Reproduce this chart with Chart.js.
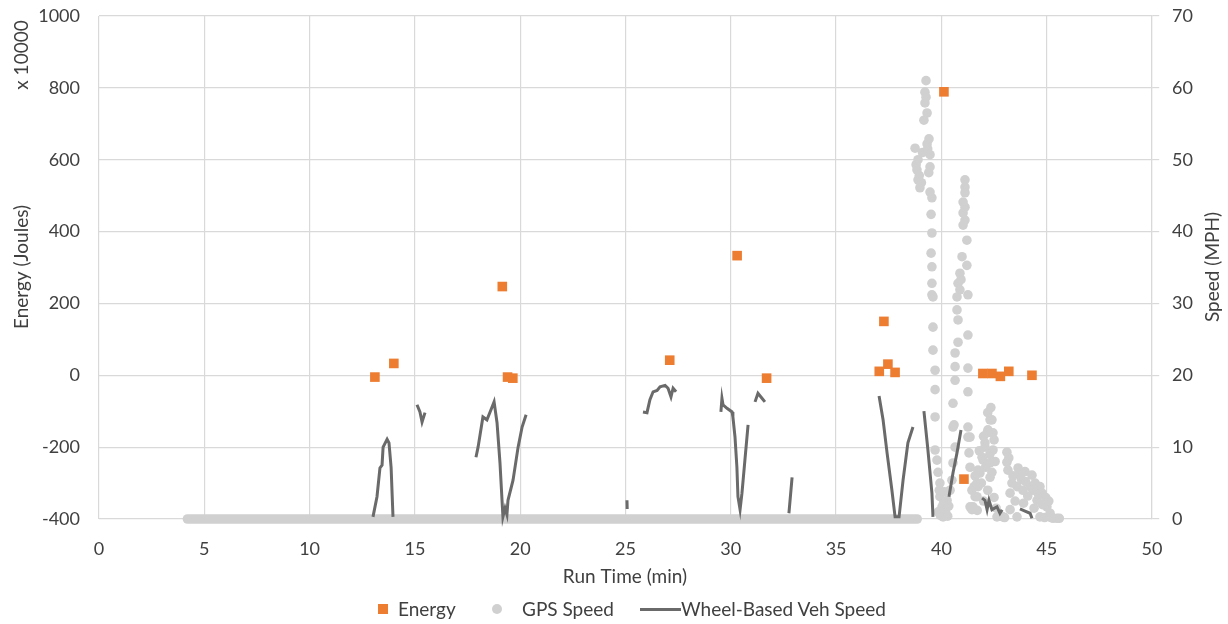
<!DOCTYPE html>
<html>
<head>
<meta charset="utf-8">
<script src="https://cdn.jsdelivr.net/npm/chart.js@4.4.1/dist/chart.umd.min.js"></script>
<style>
  body { margin: 0; background: #fff; }
  #wrap { position: relative; width: 1228px; height: 624px; font-family: Lato, "Open Sans", sans-serif; color: #404040; }
  #chart { position: absolute; left: 0; top: 0; }
  .lg { position: absolute; font-size: 19px; line-height: 20px; top: 599px; white-space: nowrap; }
  .mk { position: absolute; }
</style>
</head>
<body>
<div id="wrap">
  <canvas id="chart" width="1228" height="624"></canvas>
  <div class="mk" style="left:378px;top:604px;width:10px;height:10px;background:#ED7D31"></div>
  <div class="lg" style="left:398px">Energy</div>
  <div class="mk" style="left:492px;top:604px;width:10px;height:10px;border-radius:5px;background:#d0d0d0"></div>
  <div class="lg" style="left:522px">GPS Speed</div>
  <div class="mk" style="left:640px;top:608px;width:41px;height:3px;background:#6a6a6a"></div>
  <div class="lg" style="left:681px">Wheel-Based Veh Speed</div>
</div>
<script>
// energy events (x 10000 J)
var energyTime = [13.1, 14.0, 19.15, 19.4, 19.65, 27.1, 30.3, 31.7, 37.05, 37.27, 37.46, 37.8, 40.12, 41.07, 41.97, 42.4, 42.8, 43.2, 44.3];
var energyJ    = [-5, 33, 247, -5, -8, 42, 333, -8, 11, 150, 31, 8, 789, -289, 5, 5, -3, 11, 0];

// GPS speed while parked, drawn as one dense run of points at 0 mph
var gpsIdleTime = [4.2, 38.85];
var gpsIdleMph  = [0, 0];

// GPS speed samples (min, mph)
var gpsTime = [39.27, 39.22, 39.27, 39.22, 39.32, 39.17, 39.41, 39.32, 38.75, 39.46, 38.89, 39.46, 38.84, 38.89, 38.98, 39.46, 39.55,
  39.51, 39.55, 39.51, 39.55, 39.55, 39.55, 38.80, 38.95, 39.05, 39.10, 39.40, 39.35,
  39.60, 39.60, 39.60, 39.70, 39.70, 39.70, 39.70, 39.79, 39.84, 39.93, 39.93, 40.03, 40.08, 40.27, 40.41, 40.50, 40.55, 40.65,
  39.85, 39.95, 40.10, 40.20, 40.30, 40.15, 39.90, 40.35,
  41.12, 41.12, 41.12, 41.03, 41.12, 41.03, 41.12, 41.03, 41.21, 40.98, 41.21, 40.88, 40.79, 41.26, 40.74, 40.74, 40.79, 41.26,
  40.79, 40.65, 40.65, 41.26, 40.65, 41.26, 40.55, 40.55, 41.26, 41.26, 40.60, 40.93, 40.88,
  42.40, 42.21, 42.07, 41.93, 41.74, 41.69, 41.60, 41.45, 42.31, 42.45, 42.17, 42.07, 42.45, 41.98, 42.31, 41.83, 42.31, 41.74,
  41.69, 41.50, 41.36, 41.45, 41.36, 41.31, 41.36, 42.64, 42.92, 42.80,
  41.60, 41.80, 42.00, 42.20, 42.35, 42.50, 42.55, 42.40, 42.20, 42.00, 41.90, 42.10, 42.30, 41.55, 41.70, 42.50, 42.60,
  43.11, 43.11, 43.16, 43.64, 43.97, 44.30, 44.68, 44.78, 43.35, 43.26, 43.59, 43.87, 44.21, 44.54, 45.01, 45.16, 45.49, 44.68,
  43.59, 43.26, 43.80, 44.45, 44.90, 45.30, 45.60,
  43.20, 43.40, 43.50, 43.75, 44.00, 44.10, 44.35, 44.60, 44.80, 44.95, 45.10, 45.20, 43.90, 43.00, 44.40];
var gpsMph = [61.0, 59.4, 58.7, 57.9, 56.5, 55.5, 52.9, 52.2, 51.6, 50.7, 50.0, 49.0, 48.6, 47.2, 46.1, 45.5, 44.7,
  42.4, 39.8, 37.0, 35.1, 32.8, 31.2, 49.3, 47.8, 46.8, 51.0, 48.2, 51.5,
  30.9, 26.7, 23.5, 20.7, 18.0, 14.2, 9.6, 8.2, 6.5, 5.0, 3.1, 1.7, 0.3, 2.6, 4.0, 5.4, 7.8, 10.0,
  1.0, 0.5, 2.2, 1.0, 0.4, 3.8, 4.0, 1.8,
  47.2, 46.2, 45.4, 44.1, 43.4, 42.6, 41.6, 40.9, 38.8, 36.5, 35.3, 34.2, 32.8, 31.2, 30.9, 29.1, 27.7, 25.6,
  24.6, 23.1, 21.2, 21.0, 19.3, 17.7, 16.1, 12.8, 12.8, 11.4, 13.1, 33.3, 31.9,
  13.8, 12.4, 10.6, 8.6, 6.8, 5.0, 3.1, 1.3, 13.8, 12.0, 12.0, 10.0, 9.6, 8.2, 7.8, 6.4, 5.8, 4.5,
  3.1, 1.7, 7.2, 4.0, 1.7, 9.2, 11.4, 0.3, 0.3, 0.5,
  6.0, 9.5, 11.5, 14.8, 15.5, 11.0, 8.0, 6.5, 4.0, 2.5, 5.0, 7.2, 9.0, 4.5, 1.2, 3.0, 1.5,
  9.3, 7.9, 6.8, 7.1, 6.6, 6.1, 4.5, 3.6, 5.0, 3.6, 4.5, 4.0, 4.5, 2.6, 1.7, 0.8, 0.1, 0.3,
  0.3, 1.3, 5.5, 5.0, 0.2, 0.1, 0.1,
  8.5, 6.0, 2.5, 6.2, 5.2, 3.2, 4.0, 3.5, 2.0, 3.0, 2.5, 0.2, 2.2, 0.2, 1.5];

// wheel-based vehicle speed (min, mph), null = gap in the log
var wheelTime = [13.01, 13.20, 13.34, 13.44, 13.49, 13.68, 13.77, 13.87, 13.96, 14.0,
  15.10, 15.24, 15.34, 15.48, 15.5,
  17.90, 18.00, 18.23, 18.42, 18.57, 18.76, 18.90, 19.04, 19.18, 19.28, 19.37, 19.42, 19.66, 19.90, 20.09, 20.28, 20.3,
  25.07, 25.08, 25.1,
  25.83, 26.02, 26.16, 26.31, 26.50, 26.64, 26.88, 27.02, 27.16, 27.26, 27.40, 27.5,
  29.53, 29.58, 29.63, 29.82, 30.06, 30.10, 30.20, 30.29, 30.34, 30.44, 30.53, 30.67, 30.82, 30.9,
  31.15, 31.29, 31.48, 31.62, 31.7,
  32.76, 32.91, 33.0,
  37.04, 37.23, 37.42, 37.65, 37.80, 37.99, 38.18, 38.41, 38.65, 38.7,
  39.17, 39.36, 39.55, 39.60, 39.7,
  40.36, 40.55, 40.74, 40.93, 41.0,
  41.93, 42.07, 42.17, 42.26, 42.40, 42.64, 42.78, 42.88, 42.9,
  43.73, 43.97, 44.21, 44.30];
var wheelMph = [0.3, 3.1, 7.1, 7.5, 10.0, 11.1, 10.6, 7.2, 0.3, null,
  15.9, 14.9, 13.5, 14.8, null,
  8.6, 10.0, 14.2, 13.8, 14.9, 16.3, 13.4, 7.8, 0.3, 1.5, 0.6, 2.6, 5.4, 10.0, 12.8, 14.5, null,
  2.6, 1.4, null,
  14.9, 14.8, 16.6, 17.7, 17.9, 18.4, 18.6, 18.2, 17.0, 18.2, 17.7, null,
  14.9, 16.8, 15.9, 15.4, 14.9, 14.2, 11.4, 7.2, 3.1, 1.3, 3.6, 8.2, 13.1, null,
  16.3, 17.5, 16.8, 16.3, null,
  0.8, 5.8, null,
  17.1, 13.8, 9.2, 4.0, 0.3, 0.3, 5.4, 10.6, 12.8, null,
  15.0, 9.6, 3.6, 0.3, null,
  3.1, 6.4, 9.2, 12.4, null,
  2.9, 2.6, 1.3, 2.6, 1.3, 1.7, 0.8, 1.3, null,
  1.4, 1.1, 0.8, 0.1];

var xTicks = [0, 5, 10, 15, 20, 25, 30, 35, 40, 45, 50];

function pts(xs, ys) {
  return xs.map(function(x, i) { return {x: x, y: ys[i]}; });
}

var FONT = 'Lato, "Open Sans", sans-serif';
var TEXT = '#404040';
var GRID = '#d9d9d9';

var axisTitles = {
  id: 'axisTitles',
  afterDraw: function(chart) {
    var ctx = chart.ctx;
    ctx.save();
    ctx.fillStyle = TEXT;
    ctx.font = '19px ' + FONT;
    ctx.textAlign = 'center';
    ctx.textBaseline = 'middle';
    ctx.fillText('Run Time (min)', 625, 577);
    [['Energy (Joules)', 22, 267], ['x 10000', 22, 55], ['Speed (MPH)', 1213, 267]].forEach(function(t) {
      ctx.save();
      ctx.translate(t[1], t[2]);
      ctx.rotate(-Math.PI / 2);
      ctx.fillText(t[0], 0, 0);
      ctx.restore();
    });
    ctx.restore();
  }
};

Chart.defaults.font.family = FONT;
Chart.defaults.font.size = 18;
Chart.defaults.color = TEXT;

function plain(v) { return String(v); }

new Chart(document.getElementById('chart'), {
  type: 'scatter',
  data: {
    datasets: [
      {
        label: 'Energy',
        data: pts(energyTime, energyJ),
        yAxisID: 'y',
        pointStyle: 'rect',
        pointRadius: 6.8,
        pointBackgroundColor: '#ED7D31',
        pointBorderWidth: 0,
        order: 0
      },
      {
        label: 'Wheel-Based Veh Speed',
        data: pts(wheelTime, wheelMph),
        yAxisID: 'y1',
        showLine: true,
        spanGaps: false,
        borderColor: '#6a6a6a',
        borderWidth: 3,
        pointRadius: 0,
        clip: false,
        order: 1
      },
      {
        label: 'GPS Speed',
        data: pts(gpsTime, gpsMph),
        yAxisID: 'y1',
        pointRadius: 4.8,
        pointBackgroundColor: '#d0d0d0',
        pointBorderWidth: 0,
        clip: false,
        order: 2
      },
      {
        label: 'GPS Speed idle',
        data: pts(gpsIdleTime, gpsIdleMph),
        yAxisID: 'y1',
        showLine: true,
        borderColor: '#d0d0d0',
        borderWidth: 9.6,
        borderCapStyle: 'round',
        pointRadius: 0,
        clip: false,
        order: 3
      }
    ]
  },
  options: {
    responsive: false,
    animation: false,
    devicePixelRatio: 1,
    layout: { padding: { top: 16, left: 0, right: 0, bottom: 0 } },
    plugins: { legend: { display: false }, tooltip: { enabled: false } },
    scales: {
      x: {
        type: 'linear',
        min: 0, max: 50,
        afterBuildTicks: function(s) { s.ticks = xTicks.map(function(v) { return {value: v}; }); },
        afterFit: function(s) { s.height = 105; },
        grid: { color: GRID, lineWidth: 1.2, drawTicks: false },
        border: { display: false },
        ticks: { padding: 19, callback: plain }
      },
      y: {
        position: 'left',
        min: -400, max: 1000,
        afterFit: function(s) { s.width = 99; },
        grid: { color: GRID, lineWidth: 1.2, drawTicks: true, tickLength: 19, tickColor: 'rgba(0,0,0,0)' },
        border: { display: false },
        ticks: { stepSize: 200, padding: 0, callback: plain }
      },
      y1: {
        position: 'right',
        min: 0, max: 70,
        afterFit: function(s) { s.width = 76; },
        grid: { drawOnChartArea: false, color: GRID, lineWidth: 1.2, tickLength: 20, tickColor: GRID, tickBorderDash: [7, 40] },
        border: { display: true, color: GRID, width: 1.2 },
        ticks: { stepSize: 10, padding: 0, callback: plain }
      }
    }
  },
  plugins: [axisTitles]
});
</script>
</body>
</html>
